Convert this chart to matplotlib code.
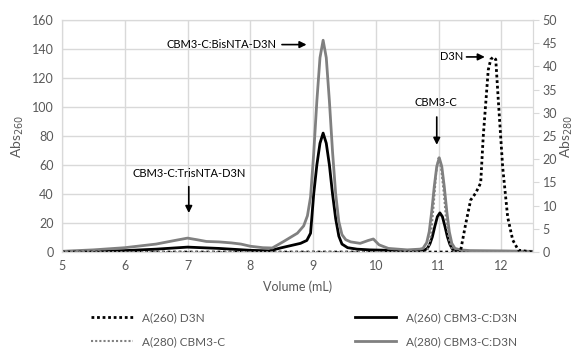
import matplotlib
matplotlib.use("Agg")
from matplotlib import pyplot as plt

plt.rcParams["font.family"] = ["Lato", "DejaVu Sans"]

# A(260) CBM3-C:D3N (black solid, left axis)
vol_260 = [5.0, 5.5, 6.0, 6.5, 7.0, 7.5, 8.0, 8.3, 8.5, 8.8, 8.9, 8.96, 9.01, 9.06,
           9.11, 9.16, 9.21, 9.26, 9.31, 9.36, 9.41, 9.46, 9.55, 9.7, 9.9, 10.2,
           10.5, 10.78, 10.82, 10.86, 10.9, 10.94, 10.98, 11.02, 11.06, 11.1,
           11.14, 11.18, 11.22, 11.28, 11.5, 12.0, 12.5]
abs_260 = [0, 0.5, 1, 2, 3.4, 2.5, 1.2, 0.8, 3, 6, 8, 13, 40, 60,
           75, 82, 75, 60, 40, 23, 11, 5.5, 3, 2, 1.5, 1.2,
           0.8, 1.5, 2.5, 5.5, 10.5, 17.8, 24.4, 27, 24.4, 17.8,
           10.5, 5.2, 2, 0.6, 0.3, 0.2, 0]

# A(280) CBM3-C:D3N (grey solid, left axis)
vol_280 = [5.0, 5.5, 6.0, 6.5, 6.8, 7.0, 7.15, 7.3, 7.5, 7.7, 7.85, 8.0, 8.2, 8.35,
           8.52, 8.75, 8.85, 8.91, 8.96, 9.01, 9.06, 9.11, 9.16, 9.21, 9.26, 9.31,
           9.36, 9.41, 9.46, 9.52, 9.6, 9.75, 9.88, 9.96, 10.05, 10.2, 10.5, 10.7,
           10.75, 10.81, 10.85, 10.89, 10.93, 10.97, 11.01, 11.05, 11.09, 11.13,
           11.17, 11.21, 11.26, 11.35, 11.5, 12.0, 12.5]
abs_280 = [0.5, 1.5, 3, 5.5, 8, 9.6, 8.5, 7.3, 7, 6.3, 5.5, 4, 3, 2.8,
           7, 13, 18, 25, 38, 68, 104, 134, 146, 134, 104, 69,
           40, 21, 12, 8.5, 7, 6, 8, 9, 5, 2.5, 1.5, 2,
           2.5, 6.5, 14, 28, 45, 59, 65, 59, 45, 28,
           14, 6, 2.5, 1.5, 1, 0.8, 0.5]

# A(260) D3N (black dotted, right axis)
vol_d3n = [5.0, 11.3, 11.35, 11.43, 11.51, 11.59, 11.67, 11.71, 11.79, 11.83,
           11.87, 11.91, 11.95, 12.02, 12.10, 12.18, 12.27, 12.5]
abs_d3n = [0, 0, 0.3, 6, 11.2, 12.7, 14.9, 24.8, 39.2, 41.5,
           42, 41.5, 32.8, 18.3, 7.5, 2.6, 0.4, 0]

# A(280) CBM3-C (grey dotted, right axis)
vol_cbm = [5.0, 10.8, 10.84, 10.88, 10.92, 10.96, 11.0, 11.04, 11.08, 11.12,
           11.16, 11.2, 11.25, 12.5]
abs_cbm = [0, 0, 1, 4, 10, 17, 20.3, 18, 13, 7,
           3, 1, 0, 0]

GREY = "#808080"
TXT = "#595959"
GRID = "#d9d9d9"

fig = plt.figure(figsize=(5.76, 3.56), dpi=100)
ax = fig.add_axes([0.1076, 0.292, 0.8174, 0.652])
ax2 = ax.twinx()

l1, = ax.plot(vol_260, abs_260, color="black", lw=2, label="A(260) CBM3-C:D3N")
l2, = ax.plot(vol_280, abs_280, color=GREY, lw=2, label="A(280) CBM3-C:D3N")
l3, = ax2.plot(vol_d3n, abs_d3n, color="black", lw=2, ls=(0, (1, 1)),
               label="A(260) D3N")
l4, = ax2.plot(vol_cbm, abs_cbm, color=GREY, lw=1.5, ls=(0, (1, 1)),
               label="A(280) CBM3-C")

ax.set_xlim(5, 12.5)
ax.set_ylim(0, 160)
ax2.set_ylim(0, 50)
ax.set_xticks(range(5, 13))
ax.set_yticks(range(0, 161, 20))
ax2.set_yticks(range(0, 51, 5))
ax.grid(True, color=GRID, lw=1)
ax.set_axisbelow(True)

for a in (ax, ax2):
    for s in a.spines.values():
        s.set_color(GRID)
ax.tick_params(axis="both", length=0, labelsize=9, labelcolor=TXT, pad=6)
ax2.tick_params(axis="y", length=4, color=GRID, direction="out",
                labelsize=9, labelcolor=TXT, pad=3)

ax.set_xlabel("Volume (mL)", fontsize=9, color=TXT, labelpad=6)
ax.set_ylabel("Abs$_{260}$", fontsize=10, color=TXT, labelpad=4)
ax2.set_ylabel("Abs$_{280}$", fontsize=10, color=TXT, labelpad=1)

arrow = dict(arrowstyle="-|>", color="black", lw=1.2, mutation_scale=10)
ax.annotate("", xy=(8.94, 143), xytext=(8.46, 143), arrowprops=arrow)
ax.text(8.42, 143, "CBM3-C:BisNTA-D3N", fontsize=8, ha="right", va="center")
ax.annotate("", xy=(7.02, 25), xytext=(7.02, 47), arrowprops=arrow)
ax.text(7.02, 54, "CBM3-C:TrisNTA-D3N", fontsize=8, ha="center", va="center")
ax.annotate("", xy=(10.97, 72), xytext=(10.97, 95), arrowprops=arrow)
ax.text(10.95, 103, "CBM3-C", fontsize=8, ha="center", va="center")
ax.annotate("", xy=(11.78, 134.5), xytext=(11.4, 134.5), arrowprops=arrow)
ax.text(11.39, 134.5, "D3N", fontsize=8, ha="right", va="center")

fig.legend(handles=[l3, l4, l1, l2], loc="lower left", bbox_to_anchor=(0.14, -0.005),
           ncol=2, frameon=False, fontsize=8.5, handlelength=3.5,
           columnspacing=11, labelcolor=TXT, labelspacing=1.1)

fig.savefig("out.png", dpi=100)
